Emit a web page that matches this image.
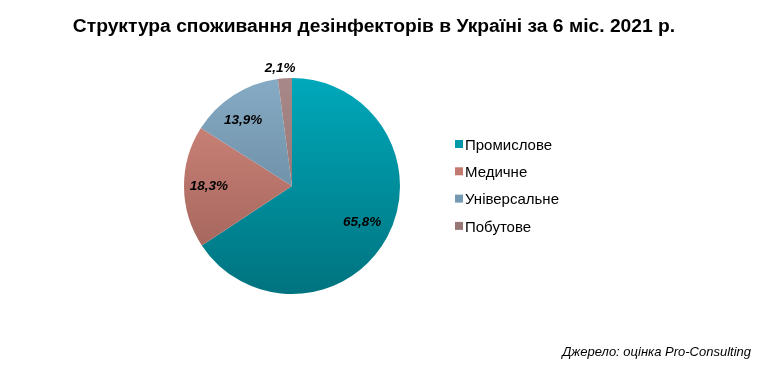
<!DOCTYPE html>
<html>
<head>
<meta charset="utf-8">
<script src="https://cdn.jsdelivr.net/npm/chart.js@4"></script>
<style>
  html, body { margin: 0; padding: 0; background: #fff; }
  #wrap { width: 780px; height: 373px; position: relative; }
</style>
</head>
<body>
<div id="wrap"><canvas id="graph" width="780" height="373"></canvas></div>
<script>
const categories = ['Промислове', 'Медичне', 'Універсальне', 'Побутове']
const shares = [65.8, 18.3, 13.9, 2.1]
const title = 'Структура споживання дезінфекторів в Україні за 6 міс. 2021 р.'
const source = 'Джерело: оцінка Pro-Consulting'

// top / bottom colour of each slice gradient
const topColors = ['#00A8BA', '#D58A7F', '#86ABC4', '#A88888']
const bottomColors = ['#00737F', '#9A5D55', '#5B7A90', '#8A6666']
const legendColors = ['#0097A7', '#C27A70', '#7399B3', '#987676']

const labelRadius = [0.73, 0.77, 0.76, 1.1]
const labelShift = [-1, 0, -4, -2] // degrees

const Chart_ = window.Chart
Chart_.defaults.font.family = '"Liberation Sans", Arial, sans-serif'

const fillGradient = (ctx) => {
  const { chart, dataIndex } = ctx
  const area = chart.chartArea
  if (!area) return topColors[dataIndex]
  const g = chart.ctx.createLinearGradient(0, area.top, 0, area.bottom)
  g.addColorStop(0, topColors[dataIndex])
  g.addColorStop(1, bottomColors[dataIndex])
  return g
}

const textLayer = {
  id: 'textLayer',
  afterDatasetsDraw(chart) {
    const { ctx } = chart
    const meta = chart.getDatasetMeta(0)
    ctx.save()
    ctx.textAlign = 'center'
    ctx.textBaseline = 'middle'

    // title (source font is a bit wider than Liberation Sans)
    ctx.fillStyle = '#000'
    ctx.font = 'bold 17.5px "Liberation Sans", Arial, sans-serif'
    ctx.save()
    ctx.translate(374, 27)
    ctx.scale(1.1, 1)
    ctx.fillText(title, 0, 0)
    ctx.restore()

    // slice labels
    ctx.font = 'italic bold 13.5px "Liberation Sans", Arial, sans-serif'
    meta.data.forEach((arc, i) => {
      const a = (arc.startAngle + arc.endAngle) / 2 + labelShift[i] * Math.PI / 180
      const r = arc.outerRadius * labelRadius[i]
      const txt = shares[i].toFixed(1).replace('.', ',') + '%'
      ctx.fillText(txt, arc.x + Math.cos(a) * r, arc.y + Math.sin(a) * r)
    })

    // legend
    ctx.textAlign = 'left'
    ctx.font = '15px "Liberation Sans", Arial, sans-serif'
    categories.forEach((name, i) => {
      const y = 144 + i * 27.3
      ctx.fillStyle = legendColors[i]
      ctx.fillRect(455, y - 4, 8, 8)
      ctx.fillStyle = '#000'
      ctx.fillText(name, 465, y + 1.5)
    })

    // source
    ctx.textAlign = 'right'
    ctx.font = 'italic 13px "Liberation Sans", Arial, sans-serif'
    ctx.fillText(source, 751, 352)
    ctx.restore()
  }
}

new Chart_(document.getElementById('graph'), {
  type: 'pie',
  plugins: [textLayer],
  data: {
    labels: categories,
    datasets: [{
      data: shares,
      backgroundColor: fillGradient,
      borderWidth: 0
    }]
  },
  options: {
    responsive: false,
    animation: false,
    layout: { padding: { left: 184, right: 380, top: 78, bottom: 79 } },
    plugins: { legend: { display: false }, tooltip: { enabled: false } }
  }
})
</script>
</body>
</html>
